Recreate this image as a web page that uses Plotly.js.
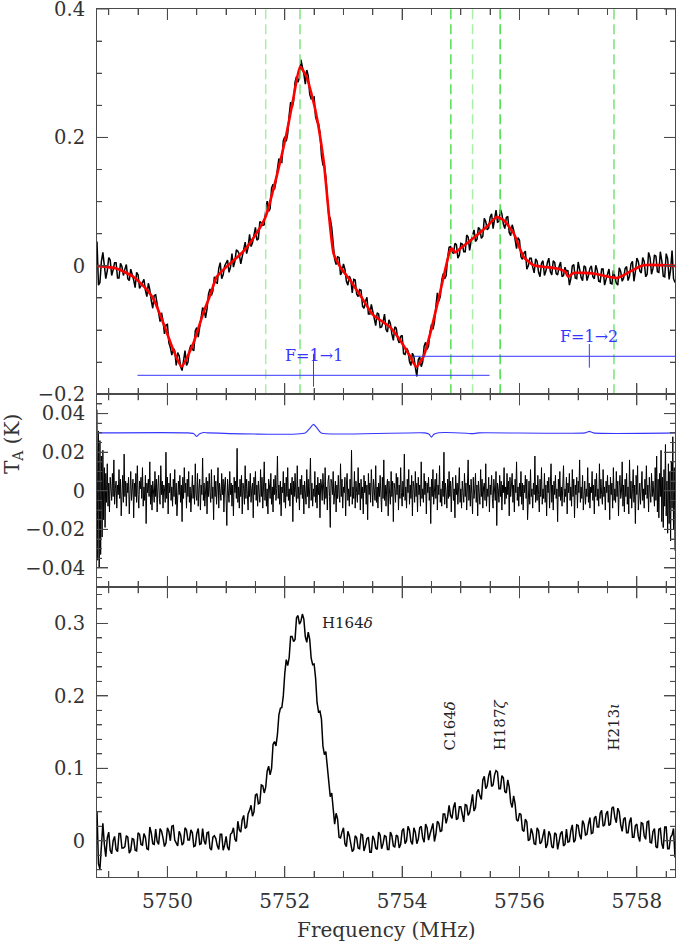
<!DOCTYPE html>
<html>
<head>
<meta charset="utf-8">
<script src="https://cdn.plot.ly/plotly-3.0.1.min.js"></script>
<style>
  html, body { margin: 0; padding: 0; background: #fff; }
  #chart { width: 677px; height: 946px; }
</style>
</head>
<body>
<div id="chart"></div>
<script>
// channel grid of the spectra (MHz)
const chanStart = 5748.80;
const chanStep = 0.025;
const residStep = 0.0125;

// top panel: observed spectrum (mK)
const topData = [
  38,-30,-26,7,21,2,-20,-8,13,9,-15,-6,5,5,-19,-19,4,-1,-15,-5,2,-20,-23,-5,-12,-22,-34,-10,-14,-35,-31,-25,-21,-38,-48,-27,-37,-54,-66,-46,
  -45,-59,-75,-87,-73,-86,-106,-92,-91,-120,-127,-139,-128,-132,-155,-135,-140,-157,-163,-145,-132,-155,-150,-131,-123,-130,-132,-101,-96,-111,-95,-77,-65,-68,-81,-67,-44,-36,-46,-39,
  -17,-26,-27,-4,5,-20,-14,0,4,9,-10,-2,19,-2,7,25,23,18,3,14,30,37,19,29,49,30,36,52,60,40,42,69,67,63,64,86,101,85,89,121,
  127,119,131,151,167,162,161,195,201,194,206,235,255,246,256,286,295,286,293,321,311,299,283,305,296,267,260,262,263,232,224,222,207,172,157,157,138,106,78,74,
  60,35,10,2,14,13,-14,-9,3,-5,-24,-30,-16,-21,-42,-21,-22,-44,-48,-37,-38,-63,-66,-55,-49,-75,-75,-60,-70,-83,-93,-73,-75,-96,-95,-87,-75,-99,-103,-84,
  -90,-106,-116,-95,-97,-114,-120,-110,-108,-137,-138,-128,-132,-149,-155,-136,-141,-158,-172,-146,-142,-157,-150,-125,-119,-130,-125,-103,-91,-99,-88,-63,-42,-55,-48,-22,-12,-20,-15,12,
  29,30,22,19,35,33,12,17,35,34,22,22,48,45,24,38,47,56,38,41,60,57,43,46,74,69,56,59,76,81,58,70,87,68,69,88,81,65,58,75,
  77,52,47,64,56,41,27,44,40,14,10,20,23,-5,0,12,12,-2,-11,11,7,-10,-17,4,8,-15,-8,5,12,-9,-14,8,5,-12,-14,-1,6,-17,-15,-2,
  -9,-7,-30,-20,0,2,-19,-20,6,-5,-18,-23,0,-2,-23,-15,-4,0,-17,-20,1,-7,-24,-25,-5,-5,-30,-21,-11,-5,-27,-28,-7,-15,-27,-30,-3,-9,-24,-19,
  -4,-1,-23,-16,3,7,-24,-9,12,7,-8,-11,13,7,-17,-13,21,13,-13,-4,17,15,-9,-10,22,8,-16,-17,19,11,-21,-6,24,-20,-26
];

// top panel: model fit (MHz, mK)
const fitFreq = [5748.80,5749.13,5749.42,5749.65,5749.77,5749.93,5750.10,5750.24,5750.44,5750.61,
  5750.73,5750.84,5751.01,5751.29,5751.52,5751.675,5751.86,5752.03,5752.15,5752.26,
  5752.37,5752.52,5752.66,5752.83,5752.94,5753.11,5753.28,5753.50,5753.79,5753.96,
  5754.13,5754.24,5754.36,5754.48,5754.65,5754.82,5754.85,5754.90,5754.99,5755.21,
  5755.44,5755.61,5755.73,5755.90,5756.07,5756.24,5756.64,5756.78,5756.83,5756.92,
  5757.26,5757.66,5757.88,5758.11,5758.65];
const fitMK = [0,-4,-17,-37,-53,-89,-131,-157,-121,-74,
  -45,-17,-1,22,51,77,139,206,263,310,
  295,243,165,20,-1,-22,-45,-76,-95,-115,
  -140,-157,-142,-105,-40,25,27,21,27,43,
  61,76,71,51,14,1,-4,-9,-17,-11,
  -12,-19,-9,1,0];

// component line frequencies (green dashed markers)
const compFreq = [5751.675, 5752.26, 5754.83, 5755.20, 5755.67, 5757.61];
const compColor = ['#a8f0a8', '#7fe57f', '#55dd55', '#a8f0a8', '#44dd44', '#77e577'];

// hyperfine pattern markers
const hfLabels = ['F=1\u21921', 'F=1\u21922'];
const hfCenter = [5752.49, 5757.19];
const hfHalfSpan = 3;
const hfLevel = [-0.1704, -0.1408];
const hfTickTop = [-0.137, -0.1217];
const hfTickBottom = [-0.188, -0.1585];
const hfLabelY = [-0.1396, -0.1103];

// middle panel: residuals (mK)
const residData = [
  42,-36,31,-40,26,-33,18,-24,21,-15,12,-19,9,-6,14,-8,4,-11,7,2,
  -5,9,-3,16,-7,1,5,-9,3,-2,11,-4,6,-13,2,8,-6,19,-3,5,
  -8,4,-1,7,-12,3,10,-5,0,6,-14,4,-3,9,-6,13,-2,-9,5,1,
  7,-4,12,-8,2,-5,8,-17,4,-1,6,-3,15,-7,3,-10,5,1,-6,10,
  -3,6,-11,2,8,-4,-7,13,-2,5,-9,3,1,-6,20,-4,7,-12,4,-1,
  9,-5,2,-8,6,-3,11,-7,4,-13,1,5,-2,8,-6,3,-16,7,-4,12,
  -1,4,-9,6,-3,10,-6,2,-11,5,8,-4,3,-7,14,-2,-5,9,-8,1,
  6,-10,3,-2,17,-5,4,-8,1,7,-12,5,-3,9,-1,-6,11,-4,2,-15,
  8,-3,5,-7,2,12,-9,4,-1,-5,9,-2,6,-11,3,7,-4,-18,6,1,
  -6,10,-2,4,-8,3,-13,7,-1,5,-4,22,-6,2,-9,6,-3,8,-12,4,
  1,-7,13,-4,6,-2,-10,5,-3,9,-6,1,4,-14,7,-2,10,-5,3,-8,
  5,-1,-6,11,-3,7,-9,2,15,-5,4,-8,1,-12,6,3,-4,9,-7,2,
  -11,6,-2,8,-5,1,18,-4,3,-7,5,-13,2,-1,10,-6,4,-9,7,-3,
  12,-5,1,-8,4,-2,7,-16,5,-3,9,-1,-6,13,-4,2,-10,6,-2,8,
  -4,3,-12,5,1,-7,11,-3,6,-9,2,17,-5,4,-8,1,-3,10,-6,3,
  -9,7,-2,4,-14,6,3,-5,9,-1,-7,12,-4,2,-10,5,8,-3,-19,6,
  4,-2,10,-7,1,5,-11,3,-4,8,-2,-6,14,-3,6,-9,2,-1,7,-13,
  3,9,-5,1,-8,6,-3,21,-7,2,-4,10,-9,5,-1,-6,12,-2,4,-10,
  6,-4,2,-12,8,-1,5,-7,3,-15,9,-2,4,-6,11,-3,-8,6,1,-5,
  13,-6,2,-9,4,-3,8,-1,-11,7,-4,16,-5,3,-8,2,6,-13,5,-2,
  -7,10,-3,5,-16,4,1,-6,9,-2,7,-10,3,-4,12,-1,-8,5,-3,19,
  -5,2,-9,6,-1,11,-7,3,-4,8,-13,5,2,-6,10,-3,4,-11,7,-2,
  3,-8,15,-4,1,-6,9,-2,5,-12,4,-1,7,-5,2,-17,6,-3,11,-7,
  2,6,-4,9,-10,3,-2,13,-6,1,-8,5,-3,20,-7,4,-1,-9,6,-4,
  10,-3,5,-11,2,7,-5,1,-14,8,-2,4,-7,3,12,-6,1,-9,5,-1,
  -6,9,-3,4,-10,2,16,-5,3,-8,6,-2,-12,7,-4,1,9,-6,3,-13,
  5,-1,-7,11,-3,6,-9,2,4,-5,14,-8,1,-3,7,-11,3,-2,8,-4,
  -9,6,2,-5,10,-18,4,1,-6,8,-3,5,-10,3,-1,12,-7,2,-4,9,
  -2,5,-13,7,-3,1,9,-6,3,-11,6,-1,15,-5,2,-8,4,-3,10,-7,
  4,-10,3,-1,8,-4,6,-15,2,5,-7,11,-3,1,-9,4,-2,18,-6,3,
  -5,8,-2,-11,6,-3,12,-7,1,-4,9,-6,3,-13,5,-1,7,-9,2,14,
  -6,3,-10,5,-2,8,-4,1,-16,6,-3,10,-5,2,-8,4,13,-6,1,-3,
  7,-12,4,-1,9,-5,2,-8,11,-3,6,-14,3,-2,7,-9,5,-1,16,-6,
  2,-4,8,-10,3,5,-7,1,-3,12,-6,4,-9,2,-1,10,-5,3,-12,6,
  -3,9,-5,1,-8,14,-4,6,-2,-7,11,-3,2,-10,5,-1,8,-6,3,-15,
  7,-2,4,-9,12,-5,1,-6,10,-3,5,-13,2,8,-4,-1,15,-8,3,-11,
  6,-3,9,-7,2,-12,16,-4,5,-9,1,11,-6,3,-17,8,-2,13,-10,4,
  4,-7,2,10,-5,1,-9,6,-2,13,-4,3,-11,7,-1,-6,9,-3,5,-8,
  -8,12,-5,18,-11,6,-14,9,-3,21,-16,7,-19,11,-8,24,-13,5,-22,14,
  -17,10,-26,15,-9,28,-20,12,-31
];

// middle panel: hyperfine template (MHz, mK)
const hfTplFreq = [5748.80,5750.35,5750.45,5750.50,5750.55,5750.62,5750.70,5752.35,5752.43,5752.49,
  5752.55,5752.62,5754.38,5754.46,5754.50,5754.54,5754.62,5754.75,5755.10,5755.20,
  5755.30,5757.12,5757.19,5757.26,5758.65];
const hfTplMK = [30,30,29.6,28.2,29.6,30.2,30,30,32.5,34.4,
  32.5,30,30,29.3,27.8,29.3,30.1,30.2,29.8,29.6,
  30,30,30.8,30,30];

// bottom panel: line spectrum (mK)
const lineData = [
  40,-32,-39,-9,24,-5,-22,4,12,-13,-18,0,6,-12,-15,10,10,-10,-10,-8,7,5,-17,-13,3,2,-13,-14,11,9,-5,-6,10,5,-11,-12,19,11,-4,-5,
  16,-1,-5,17,13,4,-8,-3,18,13,0,20,21,1,-3,-7,13,8,-6,-3,18,15,1,1,15,11,-8,-7,10,17,-5,-4,17,0,-5,11,12,-10,-13,5,
  7,3,-7,-12,9,9,-13,-6,6,-9,-13,9,11,18,2,-1,27,15,12,29,35,17,19,37,42,49,34,40,63,65,51,52,77,76,66,74,96,103,91,100,
  133,137,131,147,174,183,184,200,231,250,242,253,282,282,275,278,308,311,299,303,313,306,282,274,288,278,252,243,244,225,191,178,179,168,131,119,123,100,75,61,
  66,41,23,38,30,5,4,12,18,-4,-8,13,7,-4,-15,-12,7,4,-10,-11,9,8,-14,-7,3,5,-16,-16,7,2,-10,-12,12,8,-11,-4,7,6,-12,-12,
  12,7,-7,-9,8,6,-10,-5,14,17,-4,0,20,15,-1,-5,18,12,-4,2,18,20,4,-2,23,18,1,9,19,24,-1,9,27,24,13,14,37,37,24,33,
  49,35,31,46,53,29,31,47,47,34,26,50,49,35,39,51,64,41,46,67,71,62,57,84,89,72,76,90,97,75,77,91,97,95,72,72,90,87,68,66,
  84,74,53,46,62,51,29,27,38,36,15,13,30,26,0,2,17,10,-4,-5,18,14,-4,-2,10,16,-10,-5,13,8,-8,-10,11,9,-12,-3,10,13,-7,-5,
  16,-2,-1,14,22,-2,1,22,21,8,2,28,23,8,9,23,32,10,11,31,34,19,19,38,42,20,22,37,41,21,23,45,47,32,25,45,40,22,13,30,
  32,11,11,26,32,5,5,21,23,6,-1,25,24,7,2,26,27,-2,-3,13,17,-8,-10,16,17,-4,-11,19,19,-11,-11,5,8,17,-23
];

// line identifications
const lineNames = ['H164<i>\u03b4</i>', 'C164<i>\u03b4</i>', 'H187<i>\u03b6</i>', 'H213<i>\u03b9</i>'];
const lineFreq = [5752.60, 5754.82, 5755.67, 5757.61];

const xRange = [5748.80, 5758.65];
const topRange = [-0.2, 0.4];
const midRange = [-0.05, 0.05];
const botRange = [-0.05, 0.35];

const chanFreq = topData.map((v, i) => chanStart + i * chanStep);
const residFreq = residData.map((v, i) => chanStart + i * residStep);
const toK = arr => arr.map(v => v / 1000);

const FONT = 'DejaVu Serif, serif';
const AXC = '#4a4a4a';
const BLUE = '#3636ff';

const traces = [];

// top panel
traces.push({ x: chanFreq, y: toK(topData), xaxis: 'x', yaxis: 'y', mode: 'lines',
  line: { color: '#000', width: 1.5 }, hoverinfo: 'skip' });
compFreq.forEach((f, i) => {
  traces.push({ x: [f, f], y: topRange, xaxis: 'x', yaxis: 'y', mode: 'lines',
    line: { color: compColor[i], width: 1.5, dash: '10px,5px' }, hoverinfo: 'skip' });
});
traces.push({ x: fitFreq, y: toK(fitMK), xaxis: 'x', yaxis: 'y', mode: 'lines',
  line: { color: '#ff0000', width: 2.6, shape: 'spline', smoothing: 0.5 }, hoverinfo: 'skip' });
hfCenter.forEach((c, i) => {
  traces.push({ x: [c - hfHalfSpan, c + hfHalfSpan], y: [hfLevel[i], hfLevel[i]], xaxis: 'x', yaxis: 'y',
    mode: 'lines', line: { color: BLUE, width: 1 }, hoverinfo: 'skip' });
  traces.push({ x: [c, c], y: [hfTickBottom[i], hfTickTop[i]], xaxis: 'x', yaxis: 'y',
    mode: 'lines', line: { color: BLUE, width: 1 }, hoverinfo: 'skip' });
});

// middle panel
traces.push({ x: residFreq, y: toK(residData), xaxis: 'x2', yaxis: 'y2', mode: 'lines',
  line: { color: '#000', width: 1 }, hoverinfo: 'skip' });
traces.push({ x: hfTplFreq, y: toK(hfTplMK), xaxis: 'x2', yaxis: 'y2', mode: 'lines',
  line: { color: BLUE, width: 1.1, shape: 'spline', smoothing: 0.6 }, hoverinfo: 'skip' });

// bottom panel
traces.push({ x: chanFreq, y: toK(lineData), xaxis: 'x3', yaxis: 'y3', mode: 'lines',
  line: { color: '#000', width: 1.5 }, hoverinfo: 'skip' });

function xAxis(anchor, labels) {
  const ax = {
    anchor: anchor, range: xRange,
    showgrid: false, zeroline: false,
    showline: true, linecolor: AXC, mirror: 'ticks',
    ticks: 'inside', ticklen: 11, tickcolor: AXC,
    tick0: 5750, dtick: 2,
    minor: { ticks: 'inside', ticklen: 6, dtick: 0.5 },
    showticklabels: labels,
    tickfont: { family: FONT, size: 20, color: '#333' }
  };
  if (labels) ax.ticklabelstandoff = 6;
  return ax;
}
function yAxis(anchor, domain, range, dtick, minorDtick) {
  return {
    anchor: anchor, domain: domain, range: range,
    showgrid: false, zeroline: false,
    showline: true, linecolor: AXC, mirror: 'ticks',
    ticks: 'inside', ticklen: 11, tickcolor: AXC,
    dtick: dtick,
    minor: { ticks: 'inside', ticklen: 5, dtick: minorDtick },
    ticklabelstandoff: 7, ticklabeloverflow: 'allow',
    tickfont: { family: FONT, size: 19.5, color: '#333' }
  };
}

// inward tick marks on all four sides of each panel, drawn as a line trace per panel
function tickValues(lo, hi, step) {
  const out = [];
  for (let n = Math.ceil(lo / step - 1e-6); n <= Math.floor(hi / step + 1e-6); n++) out.push(n * step);
  return out;
}
const isMultiple = (v, step) => Math.abs(v / step - Math.round(v / step)) < 1e-6;
const plotWidthPx = 578;
const panels = [
  { xa: 'x', ya: 'y', yr: topRange, major: 0.2, minor: 0.05, heightPx: 385.3 },
  { xa: 'x2', ya: 'y2', yr: midRange, major: 0.02, minor: 0.005, heightPx: 193.0 },
  { xa: 'x3', ya: 'y3', yr: botRange, major: 0.1, minor: 0.02, heightPx: 289.7 }
];
panels.forEach(p => {
  const tx = [], ty = [];
  const yPerPx = (p.yr[1] - p.yr[0]) / p.heightPx;
  const xPerPx = (xRange[1] - xRange[0]) / plotWidthPx;
  tickValues(xRange[0], xRange[1], 0.5).forEach(v => {
    const len = (isMultiple(v - 5750, 2) ? 11 : 6) * yPerPx;
    tx.push(v, v, null, v, v, null);
    ty.push(p.yr[0], p.yr[0] + len, null, p.yr[1], p.yr[1] - len, null);
  });
  tickValues(p.yr[0], p.yr[1], p.minor).forEach(v => {
    const len = (isMultiple(v, p.major) ? 11 : 5) * xPerPx;
    tx.push(xRange[0], xRange[0] + len, null, xRange[1], xRange[1] - len, null);
    ty.push(v, v, null, v, v, null);
  });
  traces.push({ x: tx, y: ty, xaxis: p.xa, yaxis: p.ya, mode: 'lines', cliponaxis: false,
    line: { color: AXC, width: 1 }, hoverinfo: 'skip' });
});

const annotations = [];
hfCenter.forEach((c, i) => {
  annotations.push({ x: c, y: hfLabelY[i], xref: 'x', yref: 'y', text: hfLabels[i],
    showarrow: false, xanchor: 'center', yanchor: 'middle',
    font: { family: FONT, size: 16, color: BLUE } });
});
annotations.push({ x: lineFreq[0], y: 0.301, xref: 'x3', yref: 'y3', text: lineNames[0],
  showarrow: false, xanchor: 'left', yanchor: 'middle',
  font: { family: FONT, size: 15, color: '#222' } });
for (let i = 1; i < lineNames.length; i++) {
  annotations.push({ x: lineFreq[i], y: 0.1217, xref: 'x3', yref: 'y3', text: lineNames[i],
    showarrow: false, textangle: -90, xanchor: 'center', yanchor: 'bottom',
    font: { family: FONT, size: 15, color: '#222' } });
}
annotations.push({ x: 0.5, y: -0.0611, xref: 'paper', yref: 'paper', text: 'Frequency (MHz)',
  showarrow: false, xanchor: 'center', yanchor: 'middle',
  font: { family: FONT, size: 20, color: '#333' } });
annotations.push({ x: -0.1453, y: 0.4988, xref: 'paper', yref: 'paper', text: 'T<sub>A</sub> (K)',
  showarrow: false, textangle: -90, xanchor: 'center', yanchor: 'middle',
  font: { family: FONT, size: 20, color: '#333' } });

const layout = {
  width: 677, height: 946,
  margin: { l: 97, r: 2, t: 9, b: 69 },
  paper_bgcolor: '#fff', plot_bgcolor: '#fff',
  showlegend: false,
  xaxis: xAxis('y', false),
  xaxis2: xAxis('y2', false),
  xaxis3: xAxis('y3', true),
  yaxis: yAxis('x', [0.5561, 1], topRange, 0.2, 0.05),
  yaxis2: yAxis('x2', [0.3338, 0.5561], midRange, 0.02, 0.005),
  yaxis3: yAxis('x3', [0, 0.3338], botRange, 0.1, 0.02),
  annotations: annotations
};

Plotly.newPlot('chart', traces, layout, { staticPlot: true, displayModeBar: false });
</script>
</body>
</html>
